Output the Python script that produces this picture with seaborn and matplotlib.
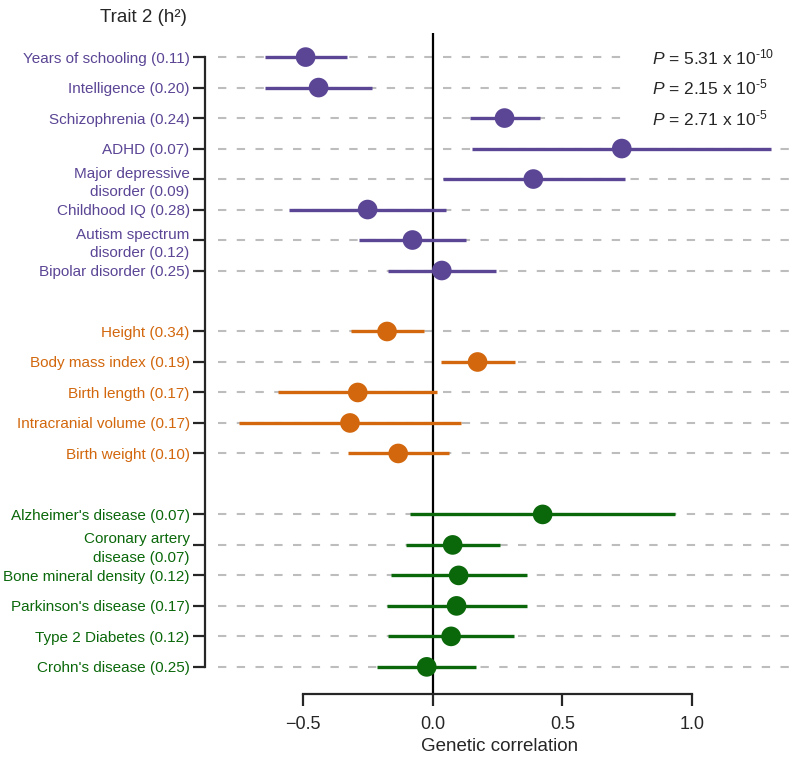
import numpy as np
import pandas as pd
import seaborn as sns
import matplotlib.pyplot as plt

# traits, heritability and genetic correlation with 95% CI
traits = ["Years of schooling", "Intelligence", "Schizophrenia", "ADHD",
          "Major depressive\ndisorder", "Childhood IQ", "Autism spectrum\ndisorder",
          "Bipolar disorder",
          "Height", "Body mass index", "Birth length", "Intracranial volume",
          "Birth weight",
          "Alzheimer's disease", "Coronary artery\ndisease", "Bone mineral density",
          "Parkinson's disease", "Type 2 Diabetes", "Crohn's disease"]
h2 = ["0.11", "0.20", "0.24", "0.07", "0.09", "0.28", "0.12", "0.25",
      "0.34", "0.19", "0.17", "0.17", "0.10",
      "0.07", "0.07", "0.12", "0.17", "0.12", "0.25"]
group = ["psych"] * 8 + ["anthro"] * 5 + ["other"] * 6
rg = [-0.490, -0.440, 0.277, 0.729, 0.388, -0.251, -0.078, 0.035,
      -0.176, 0.173, -0.289, -0.319, -0.133,
      0.424, 0.077, 0.100, 0.092, 0.071, -0.023]
ci_lo = [-0.648, -0.648, 0.145, 0.153, 0.039, -0.554, -0.283, -0.174,
         -0.316, 0.031, -0.596, -0.747, -0.328,
         -0.088, -0.104, -0.162, -0.177, -0.171, -0.215]
ci_hi = [-0.331, -0.234, 0.414, 1.304, 0.740, 0.051, 0.127, 0.243,
         -0.035, 0.316, 0.018, 0.110, 0.063,
         0.935, 0.258, 0.364, 0.364, 0.313, 0.168]
p_text = [r"$\mathit{P}$ = 5.31 x 10$^{\text{-10}}$",
          r"$\mathit{P}$ = 2.15 x 10$^{\text{-5}}$",
          r"$\mathit{P}$ = 2.71 x 10$^{\text{-5}}$"]

colors = {"psych": "#5B4595", "anthro": "#D2670D", "other": "#0A680A"}

sns.set_style("ticks")
plt.rcParams["font.family"] = ["Liberation Sans", "DejaVu Sans"]
plt.rcParams["mathtext.fontset"] = "custom"
plt.rcParams["mathtext.rm"] = "Liberation Sans"
plt.rcParams["mathtext.it"] = "Liberation Sans:italic"

df = pd.DataFrame({"trait": traits, "h2": h2, "group": group,
                   "rg": rg, "lo": ci_lo, "hi": ci_hi})
# one empty row between groups
gidx = df["group"].map({"psych": 0, "anthro": 1, "other": 2})
df["pos"] = np.arange(len(df)) + gidx
df["label"] = df["trait"] + " (" + df["h2"] + ")"

fig = plt.figure(figsize=(8, 7.6), dpi=100)
ax = fig.add_axes([205 / 800, 66 / 760, 590 / 800, 661 / 760])

# dashed guide lines, shortened where the P values sit
xend = np.where(np.arange(len(df)) < len(p_text), 0.73, 1.40)
ax.hlines(df["pos"], -0.828, xend, colors="#BDBDBD", linestyles=(0, (4, 5)),
          lw=1.5, zorder=1)
ax.axvline(0, color="black", lw=1.6, zorder=2)

for g, sub in df.groupby("group"):
    ax.hlines(sub["pos"], sub["lo"], sub["hi"], colors=colors[g], lw=2.4, zorder=3)

sns.scatterplot(data=df, x="rg", y="pos", hue="group", palette=colors, s=200,
                edgecolor="none", legend=False, zorder=4, ax=ax)

for i, t in enumerate(p_text):
    ax.text(0.845, df["pos"][i], t, fontsize=12.5, va="center", ha="left")

ax.set_xlim(-0.878, 1.397)
ax.set_ylim(20.89, -0.79)
ax.set_xticks([-0.5, 0, 0.5, 1.0])
ax.set_xticklabels(["\u22120.5", "0.0", "0.5", "1.0"])
ax.set_yticks(df["pos"])
ax.set_yticklabels(df["label"])
for lab, g in zip(ax.get_yticklabels(), df["group"]):
    lab.set_color(colors[g])
    lab.set_linespacing(1.4)

sns.despine(ax=ax)
ax.spines["left"].set_bounds(df["pos"].min(), df["pos"].max())
ax.spines["bottom"].set_bounds(-0.5, 1.0)
for s in ["left", "bottom"]:
    ax.spines[s].set_linewidth(1.6)
ax.tick_params(axis="y", length=8.5, width=1.6, pad=2.5, labelsize=11)
ax.tick_params(axis="x", length=8.5, width=1.6, pad=7, labelsize=13)

ax.set_xlabel("Genetic correlation", fontsize=13.5, labelpad=4)
ax.set_ylabel("")
fig.text(187 / 800, 1 - 18 / 760, "Trait 2 (h\u00b2)", fontsize=13.5, ha="right", va="center")

fig.savefig("out.png", dpi=100)
